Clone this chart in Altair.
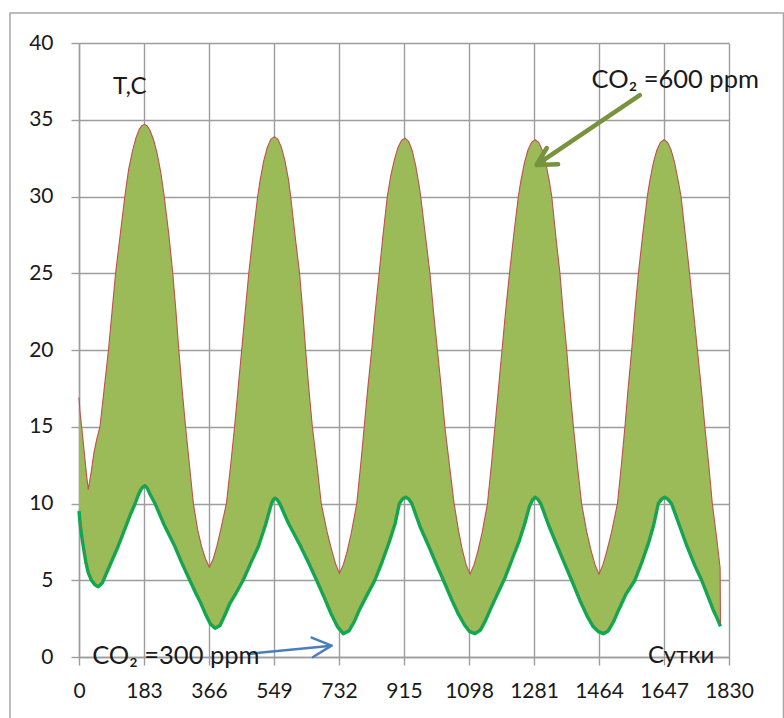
import altair as alt
import pandas as pd

# ---- data ----
# upper envelope (daily maxima, CO2 = 600 ppm)
upper_day = [0, 3, 7.5, 15, 21, 26, 34, 42, 50, 59, 71, 83, 93, 103, 116, 129, 140, 150, 160, 170, 177, 184,
             192, 200, 210, 220, 230, 240, 253, 264, 273, 281, 290, 300, 311, 322, 334, 345, 356, 367,
             378, 388, 400, 415, 427, 438, 448, 458, 468, 478, 490, 503, 510, 520, 530, 540, 550,
             560, 570, 580, 590, 596, 608, 621, 630, 638, 647, 657, 670, 682, 698, 711, 722, 733,
             744, 754, 766, 782, 793, 803, 813, 824, 834, 845, 856, 868, 878, 888, 898, 908, 918,
             928, 938, 948, 958, 962, 975, 988, 998, 1009, 1020, 1030, 1043, 1056, 1068, 1079, 1090, 1101,
             1112, 1123, 1135, 1150, 1161, 1171, 1181, 1191, 1201, 1212, 1224, 1237, 1244, 1254, 1264, 1274, 1284,
             1294, 1304, 1314, 1324, 1331, 1342, 1354, 1363, 1373, 1382, 1392, 1403, 1415, 1429, 1442, 1453, 1464,
             1475, 1486, 1499, 1516, 1527, 1537, 1546, 1556, 1565, 1575, 1587, 1600, 1607, 1617, 1627, 1637, 1647,
             1657, 1667, 1677, 1687, 1695, 1707, 1719, 1730, 1741, 1752, 1762, 1773, 1783, 1795, 1805, 1806]
upper_t = [16.9, 15.9, 15.0, 13.3, 11.9, 10.9, 12.0, 13.3, 14.2, 15.0, 17.5, 20.0, 22.5, 25.0, 27.5, 30.0, 31.8, 32.9, 33.8, 34.4, 34.62, 34.7,
           34.6, 34.3, 33.7, 32.8, 31.6, 30.0, 27.5, 25.0, 22.5, 20.0, 17.5, 15.0, 12.5, 10.0, 8.3, 7.2, 6.4, 5.85,
           6.4, 7.2, 8.4, 10.0, 12.5, 15.0, 17.5, 20.0, 22.5, 25.0, 27.5, 30.0, 31.07, 32.3, 33.2, 33.72, 33.9,
           33.72, 33.2, 32.3, 31.07, 30.0, 27.5, 25.0, 22.5, 20.0, 17.5, 15.0, 12.5, 10.0, 8.2, 7.0, 6.1, 5.45,
           6.0, 6.8, 8.0, 10.0, 12.5, 15.0, 17.5, 20.0, 22.5, 25.0, 27.5, 30.0, 31.4, 32.4, 33.2, 33.65, 33.8,
           33.6, 33.0, 32.0, 30.66, 30.0, 27.5, 25.0, 22.5, 20.0, 17.5, 15.0, 12.5, 10.0, 8.3, 7.0, 6.0, 5.4,
           6.0, 6.9, 8.1, 10.0, 12.5, 15.0, 17.5, 20.0, 22.5, 25.0, 27.5, 30.0, 31.02, 32.19, 33.03, 33.53, 33.7,
           33.53, 33.03, 32.19, 31.02, 30.0, 27.5, 25.0, 22.5, 20.0, 17.5, 15.0, 12.5, 10.0, 8.2, 6.9, 6.0, 5.4,
           6.0, 6.9, 8.1, 10.0, 12.5, 15.0, 17.5, 20.0, 22.5, 25.0, 27.5, 30.0, 31.02, 32.19, 33.03, 33.53, 33.7,
           33.53, 33.03, 32.19, 31.02, 30.0, 27.5, 25.0, 22.5, 20.0, 17.5, 15.0, 12.5, 10.0, 7.8, 5.8, 2.2]

# lower envelope (daily minima, CO2 = 300 ppm)
lower_day = [0, 4, 8, 12, 19, 26, 35, 45, 54, 65, 80, 95, 110, 130, 145, 158, 166, 174, 180, 186, 192, 200, 214,
             240, 270, 290, 312, 328, 343, 358, 370, 383, 397, 412, 425, 443, 462, 485, 505, 525, 542, 547, 552,
             558, 565, 590, 622, 645, 669, 690, 710, 727, 744, 760, 775, 790, 810, 833, 855, 875, 890, 902, 911, 920,
             928, 937, 960, 985, 1005, 1026, 1048, 1068, 1085, 1100, 1115, 1130, 1145, 1160, 1178, 1200, 1220,
             1240, 1255, 1268, 1277, 1284,
             1291, 1300, 1322, 1345, 1365, 1387, 1410, 1430, 1447, 1462, 1476, 1490, 1505, 1520, 1540, 1565,
             1585, 1603, 1618, 1631, 1641, 1649,
             1657, 1668, 1690, 1712, 1733, 1753, 1770, 1785, 1797, 1806]
lower_t = [9.5, 8.5, 7.8, 7.2, 6.2, 5.5, 5.0, 4.7, 4.58, 4.8, 5.6, 6.4, 7.2, 8.4, 9.3, 10.0, 10.5, 10.9, 11.08, 11.15, 11.0, 10.6, 10.0,
           8.6, 7.2, 6.1, 5.0, 4.2, 3.5, 2.7, 2.15, 1.87, 2.05, 2.8, 3.5, 4.2, 5.0, 6.2, 7.2, 8.6, 10.0, 10.25, 10.34,
           10.25, 10.0, 8.7, 7.3, 6.2, 5.0, 3.9, 2.8, 2.0, 1.52, 1.7, 2.3, 3.1, 4.0, 5.0, 6.3, 7.6, 8.7, 10.0, 10.3, 10.4,
           10.3, 10.0, 8.5, 7.2, 6.1, 5.0, 3.8, 2.8, 2.1, 1.65, 1.52, 1.75, 2.4, 3.2, 4.1, 5.2, 6.4,
           7.6, 8.7, 9.8, 10.25, 10.4,
           10.3, 10.0, 8.6, 7.3, 6.2, 5.0, 3.7, 2.7, 2.0, 1.65, 1.52, 1.7, 2.3, 3.1, 4.1, 5.0,
           6.2, 7.4, 8.6, 10.0, 10.3, 10.4,
           10.3, 10.0, 8.6, 7.2, 6.0, 5.0, 4.0, 3.1, 2.5, 2.0]

x_ticks = [0, 183, 366, 549, 732, 915, 1098, 1281, 1464, 1647, 1830]
y_ticks = [0, 5, 10, 15, 20, 25, 30, 35, 40]

# annotations (text, anchor day, anchor value)
label_text = ["T,C", "CO\u2082 =600 ppm", "CO\u2082 =300 ppm", "Сутки"]
label_day = [96, 1443, 37, 1602]
label_t = [36.7, 37.1, -0.46, -0.39]
label_size = [24, 25.5, 25.5, 24]

# arrows: (group, day, value) points, tail -> tip, and head barb, tip, barb
arrow_group = ["a600", "a600", "h600", "h600", "h600", "a300", "a300", "h300", "h300", "h300"]
arrow_day = [1579, 1290, 1349, 1288, 1317, 476, 711, 655, 711, 659]
arrow_t = [36.6, 32.1, 32.1, 32.05, 33.16, 0.2, 0.74, 1.26, 0.74, 0.0]
arrow_color = {"a600": "#77933C", "h600": "#77933C", "a300": "#4A7EBB", "h300": "#4A7EBB"}
arrow_width = {"a600": 4.5, "h600": 4.5, "a300": 2.5, "h300": 2.5}

# ---- tables ----
upper_df = pd.DataFrame({"day": upper_day, "t": upper_t})
lower_df = pd.DataFrame({"day": lower_day, "t": lower_t})
poly_df = pd.DataFrame({
    "day": upper_day + lower_day[::-1],
    "t": upper_t + lower_t[::-1],
})
poly_df["i"] = range(len(poly_df))
text_df = pd.DataFrame({"label": label_text, "day": label_day, "t": label_t, "fs": label_size})
arrow_df = pd.DataFrame({"g": arrow_group, "day": arrow_day, "t": arrow_t})
arrow_df["i"] = range(len(arrow_df))

GRID = "#9D9D9D"
FONT = "Lato"

xs = alt.Scale(domain=[0, 1830], nice=False, zero=False)
ys = alt.Scale(domain=[0, 40], nice=False, zero=False)
xaxis = alt.Axis(values=x_ticks, grid=True, title=None, format="d", labelFlush=False, labelOverlap=False)
yaxis = alt.Axis(values=y_ticks, grid=True, title=None, format="d", labelFlush=False, labelOverlap=False)
X = alt.X("day:Q", scale=xs, axis=xaxis)
Y = alt.Y("t:Q", scale=ys, axis=yaxis)

frame = alt.Chart(pd.DataFrame({"k": [0]})).mark_rect(
    fill="white", fillOpacity=0, stroke="#A6A6A6", strokeWidth=1.5
).encode(x=alt.value(-69), x2=alt.value(704.5), y=alt.value(-30), y2=alt.value(700))

poly = alt.Chart(poly_df).mark_line(
    fill="#9BBB59", strokeWidth=0, strokeOpacity=0
).encode(x=X, y=Y, order="i:Q")
green = alt.Chart(lower_df).mark_line(
    color="#00B050", strokeWidth=3.4, strokeJoin="round"
).encode(x=X, y=Y)
red_low = alt.Chart(lower_df).mark_line(
    color="#C0504D", strokeWidth=0.8, strokeOpacity=0.55, yOffset=-1.6
).encode(x=X, y=Y)
red = alt.Chart(upper_df).mark_line(
    color="#C0504D", strokeWidth=1.1
).encode(x=X, y=Y)

arrows = []
for g in ["a600", "h600", "a300", "h300"]:
    arrows.append(
        alt.Chart(arrow_df[arrow_df.g == g]).mark_line(
            color=arrow_color[g], strokeWidth=arrow_width[g], strokeCap="round", strokeJoin="round"
        ).encode(x=X, y=Y, order="i:Q")
    )

texts = alt.Chart(text_df).mark_text(
    align="left", baseline="alphabetic", font=FONT, color="#1a1a1a"
).encode(x=X, y=Y, text="label:N", size=alt.Size("fs:Q", scale=None, legend=None))

chart = alt.layer(frame, poly, green, red_low, red, *arrows, texts).properties(
    width=650, height=614,
    autosize=alt.AutoSizeParams(type="none"),
    padding={"left": 79, "top": 43, "right": 55, "bottom": 61},
    background="white",
).configure_view(stroke=None).configure_axis(
    gridColor=GRID, gridWidth=1.4, domainColor=GRID, domainWidth=1.4,
    tickColor=GRID, tickWidth=1.4, tickSize=8,
    labelFont=FONT, labelFontSize=21, labelColor="#1a1a1a",
).configure_axisX(labelPadding=15).configure_axisY(labelPadding=18)

chart.save("out.html", embed_options={"renderer": "svg", "actions": False})
